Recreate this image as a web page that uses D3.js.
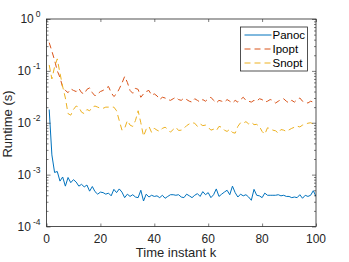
<!DOCTYPE html>
<html>
<head>
<meta charset="utf-8">
<script src="https://cdn.jsdelivr.net/npm/d3@7"></script>
<style>
  body { margin: 0; background: #fff; }
  svg { display: block; font-family: "Liberation Sans", Arial, sans-serif; }
</style>
</head>
<body>
<div id="chart"></div>
<script>
// runtime per time instant (seconds)
const panoc = [
  1.8e-2, 2.4e-3, 1.1e-3, 1.15e-3, 7.5e-4, 9.0e-4, 6.0e-4, 8.8e-4, 7.0e-4, 8.0e-4,
  7.2e-4, 6.0e-4, 6.5e-4, 5.8e-4, 6.3e-4, 4.8e-4, 5.9e-4, 4.7e-4, 4.2e-4, 4.6e-4,
  4.5e-4, 4.2e-4, 4.4e-4, 3.9e-4, 5.2e-4, 4.5e-4, 5.3e-4, 4.6e-4, 3.6e-4, 4.2e-4,
  3.8e-4, 4.1e-4, 3.7e-4, 3.6e-4, 5.0e-4, 3.1e-4, 4.2e-4, 3.7e-4, 4.0e-4, 3.8e-4,
  3.9e-4, 3.6e-4, 4.0e-4, 3.5e-4, 3.8e-4, 4.1e-4, 4.1e-4, 4.0e-4, 4.1e-4, 3.7e-4,
  3.6e-4, 4.2e-4, 3.9e-4, 3.6e-4, 4.0e-4, 4.3e-4, 3.8e-4, 4.7e-4, 4.1e-4, 4.5e-4,
  3.6e-4, 4.1e-4, 5.3e-4, 3.8e-4, 4.2e-4, 4.6e-4, 5.0e-4, 4.1e-4, 6.0e-4, 4.5e-4,
  3.7e-4, 4.2e-4, 3.9e-4, 4.1e-4, 3.7e-4, 3.2e-4, 5.2e-4, 4.0e-4, 3.9e-4, 3.6e-4,
  4.4e-4, 4.0e-4, 4.0e-4, 4.0e-4, 4.0e-4, 4.1e-4, 3.9e-4, 4.0e-4, 3.8e-4, 3.8e-4,
  3.6e-4, 3.7e-4, 3.6e-4, 4.1e-4, 3.5e-4, 4.0e-4, 3.8e-4, 4.0e-4, 4.9e-4, 3.8e-4
];
const ipopt = [
  0.35, 0.24, 0.16, 0.10, 0.075, 0.048, 0.042, 0.038, 0.045, 0.042,
  0.040, 0.046, 0.038, 0.036, 0.044, 0.047, 0.038, 0.033, 0.036, 0.040,
  0.042, 0.046, 0.050, 0.038, 0.032, 0.036, 0.045, 0.058, 0.078, 0.060,
  0.042, 0.037, 0.046, 0.044, 0.031, 0.036, 0.040, 0.042, 0.034, 0.036,
  0.033, 0.028, 0.031, 0.030, 0.028, 0.027, 0.029, 0.031, 0.028, 0.027,
  0.030, 0.028, 0.026, 0.025, 0.029, 0.027, 0.025, 0.028, 0.026, 0.029,
  0.031, 0.027, 0.024, 0.027, 0.026, 0.025, 0.028, 0.026, 0.024, 0.027,
  0.025, 0.028, 0.031, 0.027, 0.026, 0.025, 0.027, 0.026, 0.029, 0.028,
  0.025, 0.026, 0.028, 0.027, 0.024, 0.026, 0.028, 0.029, 0.026, 0.024,
  0.027, 0.025, 0.028, 0.030, 0.026, 0.025, 0.024, 0.026, 0.025, 0.024
];
const snopt = [
  0.13, 0.07, 0.12, 0.17, 0.09, 0.05, 0.03, 0.015, 0.014, 0.018,
  0.021, 0.020, 0.016, 0.015, 0.018, 0.017, 0.020, 0.021, 0.020, 0.019,
  0.019, 0.020, 0.020, 0.020, 0.020, 0.017, 0.011, 0.0072, 0.0078, 0.011,
  0.009, 0.0085, 0.011, 0.017, 0.010, 0.0055, 0.0075, 0.0085, 0.0065, 0.0078,
  0.0072, 0.0068, 0.0078, 0.0082, 0.0075, 0.0066, 0.0074, 0.0082, 0.0071, 0.0072,
  0.0078, 0.0088, 0.0095, 0.010, 0.0098, 0.0085, 0.0095, 0.0088, 0.0090, 0.0082,
  0.0072, 0.0075, 0.0070, 0.0085, 0.0082, 0.0072, 0.0068, 0.0075, 0.0065, 0.0063,
  0.0085, 0.0100, 0.0098, 0.0105, 0.0095, 0.0102, 0.0092, 0.0093, 0.0085, 0.0068,
  0.0060, 0.0080, 0.0077, 0.0072, 0.0070, 0.0063, 0.0074, 0.0072, 0.0068, 0.0073,
  0.0078, 0.0082, 0.0086, 0.0083, 0.0090, 0.0093, 0.0098, 0.0100, 0.0095, 0.0102
];
const seriesNames = ['Panoc', 'Ipopt', 'Snopt'];
const xTicks = [0, 20, 40, 60, 80, 100];
const yExponents = [-4, -3, -2, -1, 0];

const width = 349, height = 262;
const margin = { top: 19, right: 33, bottom: 35.5, left: 46.5 };
const innerW = width - margin.left - margin.right;
const innerH = height - margin.top - margin.bottom;
const axisColor = '#262626';

const svg = d3.select('#chart').append('svg')
  .attr('width', width)
  .attr('height', height);

const xScale = d3.scaleLinear().domain([0, 100]).range([0, innerW]);
const yScale = d3.scaleLog().domain([1e-4, 1]).range([innerH, 0]);

const g = svg.append('g')
  .attr('transform', 'translate(' + margin.left + ',' + margin.top + ')');

// lines
const series = [
  { name: seriesNames[0], values: panoc, color: '#0072BD', dash: null },
  { name: seriesNames[1], values: ipopt, color: '#D95319', dash: '6,4' },
  { name: seriesNames[2], values: snopt, color: '#EDB120', dash: '6,4' }
];

const line = d3.line()
  .x((d, i) => xScale(i + 1))
  .y(d => yScale(d));

g.append('clipPath').attr('id', 'clip')
  .append('rect').attr('width', innerW).attr('height', innerH);

series.forEach(s => {
  g.append('path')
    .attr('clip-path', 'url(#clip)')
    .attr('d', line(s.values))
    .style('fill', 'none')
    .style('stroke', s.color)
    .style('stroke-width', 1)
    .style('stroke-dasharray', s.dash)
    .style('stroke-linejoin', 'round');
});

// minor ticks for log axis
const minor = [];
yExponents.slice(0, -1).forEach(e => {
  for (let m = 2; m <= 9; m++) minor.push(m * Math.pow(10, e));
});
const major = yExponents.map(e => Math.pow(10, e));

// left / right axes
g.append('g').call(d3.axisLeft(yScale).tickValues(major).tickSizeInner(-4).tickSizeOuter(0).tickFormat(''));
g.append('g').call(d3.axisLeft(yScale).tickValues(minor).tickSizeInner(-2).tickSizeOuter(0).tickFormat(''));
g.append('g').attr('transform', 'translate(' + innerW + ',0)')
  .call(d3.axisRight(yScale).tickValues(major).tickSizeInner(-4).tickSizeOuter(0).tickFormat(''));
g.append('g').attr('transform', 'translate(' + innerW + ',0)')
  .call(d3.axisRight(yScale).tickValues(minor).tickSizeInner(-2).tickSizeOuter(0).tickFormat(''));

// bottom / top axes
g.append('g').attr('transform', 'translate(0,' + innerH + ')')
  .call(d3.axisBottom(xScale).tickValues(xTicks).tickSizeInner(-3).tickSizeOuter(0).tickFormat(''));
g.append('g')
  .call(d3.axisTop(xScale).tickValues(xTicks).tickSizeInner(-3).tickSizeOuter(0).tickFormat(''));

g.selectAll('.domain').remove();
g.selectAll('.tick line').style('stroke', axisColor).style('stroke-width', 0.6);

g.append('rect')
  .attr('width', innerW).attr('height', innerH)
  .style('fill', 'none').style('stroke', axisColor).style('stroke-width', 0.8);

// tick labels
g.selectAll('.xlab').data(xTicks).enter().append('text')
  .attr('x', d => xScale(d))
  .attr('y', innerH + 16)
  .attr('text-anchor', 'middle')
  .style('font-size', '12px')
  .style('fill', axisColor)
  .text(d => d);

const ylab = g.selectAll('.ylab').data(yExponents).enter().append('text')
  .attr('x', -6)
  .attr('y', d => yScale(Math.pow(10, d)) + 4)
  .attr('text-anchor', 'end')
  .style('font-size', '12px')
  .style('fill', axisColor);
ylab.append('tspan').text('10');
ylab.append('tspan')
  .attr('dx', 2)
  .attr('dy', -6)
  .style('font-size', '8.5px')
  .text(d => d);

// axis titles
svg.append('text')
  .attr('x', 176)
  .attr('y', 256.5)
  .attr('text-anchor', 'middle')
  .style('font-size', '13px')
  .style('fill', axisColor)
  .text('Time instant k');

svg.append('text')
  .attr('transform', 'translate(12,124) rotate(-90)')
  .attr('text-anchor', 'middle')
  .style('font-size', '13px')
  .style('fill', axisColor)
  .text('Runtime (s)');

// legend
const legend = svg.append('g').attr('transform', 'translate(240.5,27)');
legend.append('rect')
  .attr('width', 67).attr('height', 44)
  .style('fill', '#fff').style('stroke', axisColor).style('stroke-width', 0.8);
series.forEach((s, i) => {
  const yy = 8 + i * 14;
  legend.append('line')
    .attr('x1', 4).attr('x2', 31)
    .attr('y1', yy).attr('y2', yy)
    .style('stroke', s.color)
    .style('stroke-width', 1)
    .style('stroke-dasharray', s.dash);
  legend.append('text')
    .attr('x', 32).attr('y', yy + 4)
    .style('font-size', '11.5px')
    .style('fill', '#000')
    .text(s.name);
});
</script>
</body>
</html>
